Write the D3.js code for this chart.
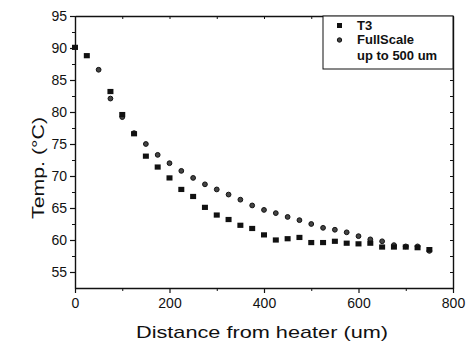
<!DOCTYPE html>
<html><head><meta charset="utf-8">
<script src="https://cdn.jsdelivr.net/npm/d3@7"></script>
<style>
html,body{margin:0;padding:0;background:#fff;}
svg{display:block;font-family:"Liberation Sans",Arial,Helvetica,sans-serif;}
</style></head>
<body>
<svg id="chart" width="472" height="354"></svg>
<script>
const t3X = [0,25,75,100,125,150,175,200,225,250,275,300,325,350,375,400,425,450,475,500,525,550,575,600,625,650,675,700,725,750];
const t3Y = [90.1,88.8,83.2,79.6,76.6,73.1,71.4,69.7,67.9,66.8,65.1,63.9,63.2,62.3,61.8,60.8,60.0,60.2,60.4,59.6,59.6,59.8,59.5,59.4,59.5,58.9,58.9,58.9,58.8,58.5];
const fsX = [50,75,100,125,150,175,200,225,250,275,300,325,350,375,400,425,450,475,500,525,550,575,600,625,650,675,700,725,750];
const fsY = [86.6,82.1,79.2,76.7,75.0,73.3,72.0,70.8,69.7,68.7,67.9,67.1,66.3,65.4,64.7,64.2,63.6,63.1,62.5,61.9,61.6,61.2,60.6,60.1,59.8,59.2,59.0,59.0,58.3];
const xTicks = [0,200,400,600,800];
const yTicks = [55,60,65,70,75,80,85,90,95];
const xTitle = "Distance from heater (um)";
const yTitle = "Temp. (°C)";
const legendLabels = ["T3","FullScale","up to 500 um"];

const svg = d3.select("#chart");
const L = 75, R = 453, T = 16, B = 288;
const x = d3.scaleLinear().domain([0,800]).range([L,R]);
const y = d3.scaleLinear().domain([52.5,95]).range([B,T]);
const ink = "#111";

const xMinor = d3.range(100,800,200);
const yMinor = d3.range(57.5,95,5);

function styleAxis(g){
  g.select(".domain").attr("stroke",ink).attr("stroke-width",1.4);
  g.selectAll(".tick line").attr("stroke",ink).attr("stroke-width",1.2);
  g.selectAll(".tick text").attr("fill",ink).attr("font-size","14px");
}

const gx = svg.append("g").attr("transform",`translate(0,${B})`)
  .call(d3.axisBottom(x).tickValues(xTicks).tickSize(5).tickPadding(5).tickSizeOuter(0).tickFormat(d3.format("d")));
styleAxis(gx);
svg.append("g").attr("transform",`translate(0,${B})`)
  .call(d3.axisBottom(x).tickValues(xMinor).tickSize(3).tickFormat("").tickSizeOuter(0))
  .call(g=>{g.select(".domain").remove();g.selectAll("line").attr("stroke",ink);});

const gy = svg.append("g").attr("transform",`translate(${L},0)`)
  .call(d3.axisLeft(y).tickValues(yTicks).tickSize(5).tickPadding(3).tickSizeOuter(0).tickFormat(d3.format("d")));
styleAxis(gy);
svg.append("g").attr("transform",`translate(${L},0)`)
  .call(d3.axisLeft(y).tickValues(yMinor).tickSize(3).tickFormat("").tickSizeOuter(0))
  .call(g=>{g.select(".domain").remove();g.selectAll("line").attr("stroke",ink);});

const gt = svg.append("g").attr("transform",`translate(0,${T})`)
  .call(d3.axisBottom(x).tickValues(xTicks.concat(xMinor)).tickSize(3).tickFormat("").tickSizeOuter(0));
gt.select(".domain").attr("stroke",ink).attr("stroke-width",1.4);
gt.selectAll("line").attr("stroke",ink);
const gr = svg.append("g").attr("transform",`translate(${R},0)`)
  .call(d3.axisLeft(y).tickValues(yTicks.concat(yMinor)).tickSize(3).tickFormat("").tickSizeOuter(0));
gr.select(".domain").attr("stroke",ink).attr("stroke-width",1.4);
gr.selectAll("line").attr("stroke",ink);

svg.append("text").attr("x",(L+R)/2-2).attr("y",338).attr("text-anchor","middle")
  .attr("font-size","17px").attr("fill",ink).attr("textLength",252).attr("lengthAdjust","spacingAndGlyphs").text(xTitle);
svg.append("text").attr("transform",`translate(44,168) rotate(-90)`).attr("text-anchor","middle")
  .attr("font-size","17px").attr("fill",ink).attr("textLength",102).attr("lengthAdjust","spacingAndGlyphs").text(yTitle);

const t3 = t3X.map((d,i)=>({x:d,y:t3Y[i]}));
const fs = fsX.map((d,i)=>({x:d,y:fsY[i]}));
svg.append("g").selectAll("circle").data(fs).join("circle")
  .attr("cx",d=>x(d.x)).attr("cy",d=>y(d.y)).attr("r",2.4)
  .attr("fill","#444").attr("stroke",ink).attr("stroke-width",1);
svg.append("g").selectAll("rect").data(t3).join("rect")
  .attr("x",d=>x(d.x)-3).attr("y",d=>y(d.y)-2.6).attr("width",6).attr("height",5.2)
  .attr("fill",ink);

const lg = svg.append("g");
lg.append("rect").attr("x",323).attr("y",T).attr("width",R-323).attr("height",53)
  .attr("fill","#fff").attr("stroke",ink).attr("stroke-width",1);
lg.append("rect").attr("x",337).attr("y",23).attr("width",5).attr("height",5).attr("fill",ink);
lg.append("circle").attr("cx",339.5).attr("cy",40).attr("r",2.2).attr("fill","#444").attr("stroke",ink);
const ly = [30,44,60];
legendLabels.forEach((t,i)=>{
  lg.append("text").attr("x",357).attr("y",ly[i]).attr("font-size","13px").attr("font-weight","bold")
    .attr("fill",ink).text(t);
});
</script>
</body></html>
